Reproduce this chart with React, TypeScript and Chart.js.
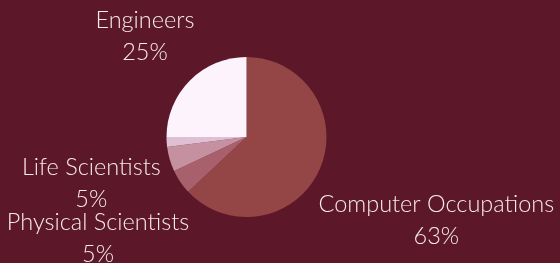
import React, { useEffect, useRef } from "react";
import { Chart, registerables } from "chart.js";

Chart.register(...registerables);

const categories = [
  "Computer Occupations",
  "Physical Scientists",
  "Life Scientists",
  "Other",
  "Engineers",
];
const shares = [63, 5, 5, 2, 25];
const colors = ["#944545", "#a8606c", "#c5909f", "#dfbfd3", "#fdf3fd"];
const BG = "#5c1828";
const TEXT = "#f6e9ef";
const FONT_SIZE = 23.5;
const LINE_H = 32;
const OFFSET = 6;
const MIN_LABEL_SHARE = 3;

const labelPlugin = {
  id: "outLabels",
  afterDatasetsDraw(chart: any) {
    const ctx = chart.ctx;
    const meta = chart.getDatasetMeta(0);
    const data = chart.data.datasets[0].data as number[];
    ctx.save();
    ctx.font = `300 ${FONT_SIZE}px Lato, sans-serif`;
    ctx.fillStyle = TEXT;
    ctx.textAlign = "center";
    ctx.textBaseline = "middle";
    meta.data.forEach((arc: any, i: number) => {
      if (data[i] < MIN_LABEL_SHARE) return;
      const lines = [String(chart.data.labels[i]), `${data[i]}%`];
      const w = Math.max(...lines.map((l) => ctx.measureText(l).width));
      const h = lines.length * LINE_H;
      const mid = (arc.startAngle + arc.endAngle) / 2;
      const vx = Math.cos(mid);
      const vy = Math.sin(mid);
      const ex = arc.x + vx * arc.outerRadius;
      const ey = arc.y + vy * arc.outerRadius;
      const proj = Math.abs(vx) * (w / 2) + Math.abs(vy) * (h / 2);
      const cx = ex + vx * (OFFSET + proj);
      const cy = ey + vy * (OFFSET + proj);
      lines.forEach((l, k) => {
        ctx.fillText(l, cx, cy - h / 2 + LINE_H * (k + 0.5) + 1);
      });
    });
    ctx.restore();
  },
};

export default function App() {
  const ref = useRef<HTMLCanvasElement>(null);
  useEffect(() => {
    document.body.style.margin = "0";
    const chart = new Chart(ref.current as HTMLCanvasElement, {
      type: "pie",
      data: {
        labels: categories,
        datasets: [
          {
            data: shares,
            backgroundColor: colors,
            borderWidth: 0,
          },
        ],
      },
      options: {
        responsive: false,
        animation: false,
        layout: { padding: { top: 57, bottom: 46, left: 166.5, right: 233.5 } },
        plugins: {
          legend: { display: false },
          tooltip: { enabled: false },
        },
      },
      plugins: [labelPlugin],
    });
    return () => chart.destroy();
  }, []);
  return (
    <div style={{ width: 560, height: 263, background: BG }}>
      <canvas ref={ref} width={560} height={263} />
    </div>
  );
}
